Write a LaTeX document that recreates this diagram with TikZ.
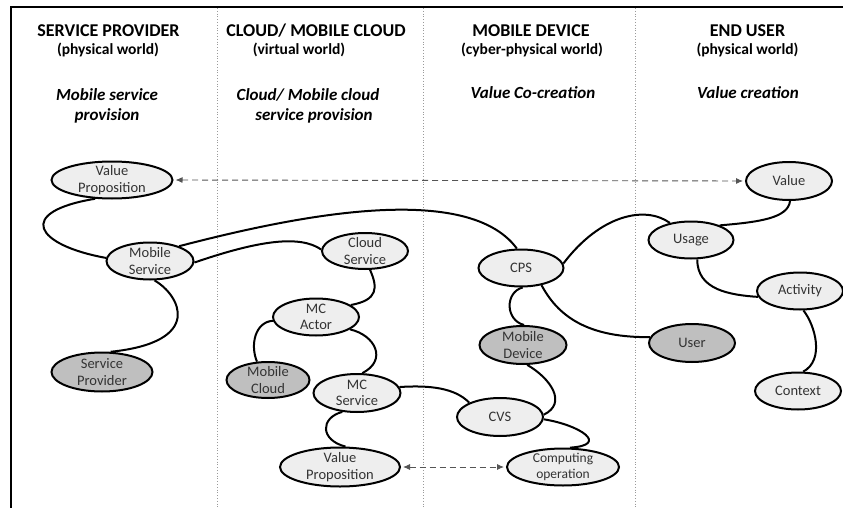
\documentclass[tikz,border=0pt]{standalone}
\usepackage{fontspec}
\setmainfont{Carlito}
\usetikzlibrary{shapes.geometric,arrows.meta}
\definecolor{lightfill}{HTML}{EEEEEE}
\definecolor{darkfill}{HTML}{BFBFBF}
\definecolor{nodetext}{HTML}{333333}
\definecolor{dashgray}{HTML}{555555}
\definecolor{divgray}{HTML}{9A9A9A}
\tikzset{
  ell/.style={ellipse, draw=black, line width=2pt, fill=lightfill, text=nodetext,
    inner xsep=0pt, inner ysep=-3pt, align=center,
    font=\fontsize{14.5}{16.5}\selectfont, minimum width=86pt, minimum height=37pt},
  ellg/.style={ell, fill=darkfill},
  conn/.style={line width=2pt, black},
  dasharrow/.style={dashgray, line width=0.9pt, dash pattern=on 6pt off 4pt,
    {Latex[length=7pt,width=6pt]}-{Latex[length=7pt,width=6pt]}, shorten <=2pt, shorten >=2pt},
  divider/.style={divgray, line width=0.8pt, dotted},
  head/.style={anchor=base, font=\bfseries\fontsize{18}{20}\selectfont},
  subhead/.style={anchor=base, font=\bfseries\fontsize{15.5}{18}\selectfont},
  ital/.style={anchor=base, font=\bfseries\itshape\fontsize{17}{20}\selectfont}
}
\begin{document}
\begin{tikzpicture}[x=1pt,y=-1pt]
\useasboundingbox (0,0) rectangle (843,508);
% frame
\draw[line width=2pt] (843,7) -- (11,7) -- (11,508);
% dividers
\draw[divider] (217,8) -- (217,508);
\draw[divider] (423,8) -- (423,508);
\draw[divider] (635,8) -- (635,508);
% headings
\node[head] (h1) at (108.5,37) {SERVICE PROVIDER};
\node[subhead] (s1) at (108,55) {(physical world)};
\node[ital] (i1a) at (107,101) {Mobile service};
\node[ital] (i1b) at (107,121) {provision};
\node[head] (h2) at (316,37) {CLOUD/ MOBILE CLOUD};
\node[subhead] (s2) at (299,55) {(virtual world)};
\node[ital] (i2a) at (308,101) {Cloud/ Mobile cloud};
\node[ital] (i2b) at (314,121) {service provision};
\node[head] (h3) at (531,37) {MOBILE DEVICE};
\node[subhead] (s3) at (532,55) {(cyber-physical world)};
\node[ital] (i3a) at (533,99) {Value Co-creation};
\node[head] (h4) at (747.5,37) {END USER};
\node[subhead] (s4) at (747.5,55) {(physical world)};
\node[ital] (i4a) at (748,99) {Value creation};
% nodes
\node[ell, minimum width=121pt] (vp1) at (112,180) {Value\\Proposition};
\node[ell, minimum width=87pt] (ms) at (150,261) {Mobile\\Service};
\node[ell, minimum height=36pt] (cs) at (365,251) {Cloud\\Service};
\node[ell] (mca) at (316,317) {MC\\Actor};
\node[ell, minimum width=85pt] (cps) at (521,268) {CPS};
\node[ell, minimum width=85pt] (usage) at (691,240) {Usage};
\node[ell, minimum height=38pt] (val) at (789,181) {Value};
\node[ell] (act) at (800,291) {Activity};
\node[ellg, minimum height=38pt] (user) at (692,343) {User};
\node[ell] (ctx) at (798,391) {Context};
\node[ellg, minimum width=101pt, minimum height=39pt] (sp) at (102,372) {Service\\Provider};
\node[ellg, minimum width=87pt, minimum height=38pt] (md) at (523,345) {Mobile\\Device};
\node[ellg, minimum width=83pt, minimum height=36pt] (mcl) at (268,380) {Mobile\\Cloud};
\node[ell, minimum width=87pt, minimum height=38pt] (mcs) at (357,393) {MC\\Service};
\node[ell, minimum height=38pt] (cvs) at (500,417) {CVS};
\node[ell, minimum width=120pt, minimum height=39pt] (vp2) at (340,467) {Value\\Proposition};
\node[ell, minimum width=112pt, font=\fontsize{13.5}{15.5}\selectfont] (co) at (563,467) {Computing\\operation};
% connectors
\draw[conn] (vp1.228) .. controls (15,212) and (35,245) .. (ms.176);
\draw[conn] (ms.27) .. controls (280,220) and (465,178) .. (cps.102);
\draw[conn] (ms.-2) .. controls (260,240) and (300,235) .. (cs.178);
\draw[conn] (ms.283) .. controls (180,295) and (205,342) .. (sp.67);
\draw[conn] (cs.285) .. controls (378,288) and (378,300) .. (mca.19);
\draw[conn] (mca.185) .. controls (255,322) and (250,345) .. (mcl.121);
\draw[conn] (mca.340) .. controls (375,335) and (388,360) .. (mcs.75);
\draw[conn] (mcs.8) .. controls (430,385) and (455,388) .. (cvs.155);
\draw[conn] (mcs.232) .. controls (320,418) and (320,440) .. (vp2.75);
\draw[conn] (cps.6) .. controls (600,215) and (645,205) .. (usage.141);
\draw[conn] (cps.320) .. controls (555,310) and (580,338) .. (user.172);
\draw[conn] (cps.275) .. controls (505,292) and (505,320) .. (md.87);
\draw[conn] (md.282) .. controls (550,378) and (568,403) .. (cvs.3);
\draw[conn] (cvs.357) .. controls (580,425) and (610,445) .. (co.70);
\draw[conn] (usage.27) .. controls (760,222) and (788,218) .. (val.273);
\draw[conn] (usage.288) .. controls (697,290) and (730,295) .. (act.188);
\draw[conn] (act.280) .. controls (815,325) and (825,360) .. (ctx.75);
% dashed arrows
\draw[dasharrow] (vp1.east) -- (val.west);
\draw[dasharrow] (vp2.east) -- (co.west);
\end{tikzpicture}
\end{document}
